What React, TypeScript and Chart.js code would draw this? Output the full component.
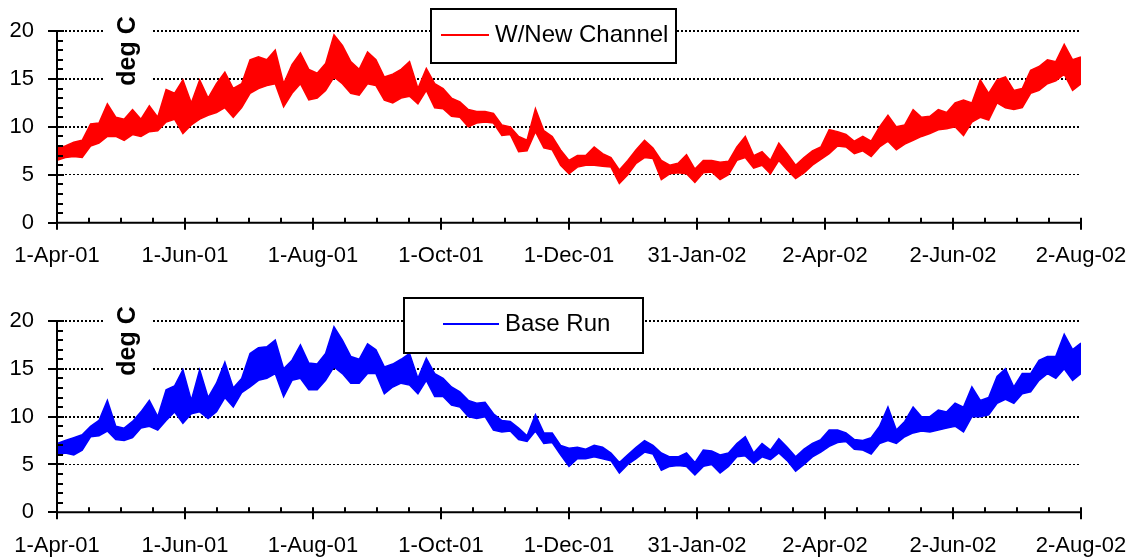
import React, { useEffect, useRef } from "react";
import { Chart, registerables } from "chart.js";
Chart.register(...registerables);

// Days since 1-Apr-01 for the labelled ticks
const xTickDays = [0, 61, 122, 183, 244, 305, 366, 427, 488];
const xTickLabels = ["1-Apr-01", "1-Jun-01", "1-Aug-01", "1-Oct-01", "1-Dec-01", "31-Jan-02", "2-Apr-02", "2-Jun-02", "2-Aug-02"];
const yTickValues = [0, 5, 10, 15, 20];
const sampleStepDays = 4; // band readings every 4 days (day 0 .. 488)

const newChannelHigh = [
  7.8, 8.0, 8.4, 8.6, 10.3, 10.4, 12.4, 11.0, 10.8, 11.8,
  10.8, 12.2, 11.0, 13.9, 13.5, 14.9, 12.5, 14.9, 13.0, 14.5,
  15.7, 14.0, 14.5, 17.0, 17.3, 17.0, 18.0, 14.5, 16.5, 17.7,
  16.0, 15.6, 16.6, 19.6, 18.5, 16.8, 16.0, 17.8, 17.0, 15.2,
  15.5, 16.0, 16.8, 14.0, 16.1, 14.5, 14.0, 13.0, 12.6, 11.8,
  11.6, 11.6, 11.4, 10.2, 10.0, 9.0, 8.6, 11.9, 9.6, 9.0,
  7.6, 6.5, 7.0, 7.0, 7.9, 7.2, 6.8, 5.5, 6.5, 7.6,
  8.6, 7.8, 6.5, 6.0, 6.2, 7.1, 5.6, 6.5, 6.5, 6.3,
  6.4, 7.9, 9.0, 7.0, 7.4, 6.5, 8.3, 7.2, 6.0, 6.8,
  7.5, 7.9, 9.7, 9.5, 9.2, 8.5, 9.0, 8.5, 10.0, 11.2,
  10.0, 10.2, 11.8, 11.0, 11.1, 11.8, 11.5, 12.5, 12.8, 12.5,
  14.9, 13.5, 14.9, 15.2, 13.8, 14.0, 15.9, 16.3, 17.0, 16.8,
  18.6, 17.0, 17.3,
];
const newChannelLow = [
  6.5, 6.8, 6.9, 6.8, 8.0, 8.3, 9.0, 9.0, 8.6, 9.2,
  9.0, 9.5, 9.6, 10.5, 10.8, 9.3, 10.2, 10.8, 11.2, 11.5,
  12.0, 11.0, 12.0, 13.5, 14.0, 14.3, 14.5, 12.1, 13.5, 14.5,
  12.8, 13.0, 13.8, 15.2, 14.5, 13.5, 13.3, 14.5, 14.3, 12.8,
  12.5, 13.0, 13.2, 12.4, 13.8, 12.0, 11.9, 11.1, 11.0, 10.0,
  10.4, 10.5, 10.4, 9.1, 9.2, 7.4, 7.5, 9.5, 7.8, 7.6,
  6.0, 5.1, 5.8, 6.0, 6.0, 5.9, 5.8, 4.1, 5.0, 6.2,
  6.8, 6.7, 4.5, 5.1, 5.2, 5.1, 4.2, 5.2, 5.3, 4.5,
  5.0, 6.5, 6.8, 5.7, 6.0, 5.1, 6.5, 5.5, 4.6, 5.2,
  6.0, 6.6, 7.2, 8.0, 7.9, 7.2, 7.5, 6.9, 7.9, 8.5,
  7.6, 8.2, 8.6, 9.0, 9.3, 9.7, 9.8, 10.0, 9.1, 10.5,
  11.0, 10.7, 12.5, 12.0, 11.8, 12.0, 13.5, 13.8, 14.5, 14.8,
  15.5, 13.8, 14.5,
];
const baseRunHigh = [
  7.2, 7.5, 7.8, 8.1, 9.0, 9.6, 11.7, 9.0, 8.8, 9.5,
  10.5, 11.7, 10.0, 12.8, 13.2, 14.9, 11.7, 14.9, 12.0, 13.5,
  15.7, 13.0, 14.0, 16.6, 17.2, 17.3, 18.0, 15.0, 15.9, 17.5,
  15.6, 15.5, 16.6, 19.4, 18.0, 16.3, 16.0, 17.6, 17.0, 15.2,
  15.5, 16.0, 16.6, 14.0, 16.1, 14.5, 14.0, 13.1, 12.6, 11.7,
  11.4, 11.5, 10.3, 9.6, 9.5, 8.8, 8.0, 10.2, 8.3, 8.3,
  7.0, 6.7, 6.8, 6.6, 7.0, 6.8, 6.2, 5.2, 6.0, 6.8,
  7.5, 7.0, 6.2, 5.8, 5.8, 6.2, 5.2, 6.5, 6.4, 6.0,
  6.2, 7.2, 7.9, 6.2, 7.2, 6.5, 7.7, 6.8, 5.8, 6.6,
  7.2, 7.6, 8.6, 8.6, 8.3, 7.6, 7.5, 7.8, 9.0, 11.0,
  8.6, 9.5, 11.0, 10.0, 10.0, 10.7, 10.5, 11.4, 11.0, 13.1,
  11.7, 12.0, 14.2, 15.0, 13.1, 14.5, 14.5, 15.9, 16.3, 16.3,
  18.6, 17.0, 17.7,
];
const baseRunLow = [
  6.0, 6.2, 6.0, 6.5, 7.9, 8.0, 8.5, 7.6, 7.5, 7.8,
  8.8, 9.0, 8.6, 9.6, 10.5, 9.3, 10.3, 10.5, 9.8, 10.5,
  12.0, 11.0, 12.5, 13.1, 13.8, 14.0, 14.5, 12.1, 13.8, 14.0,
  12.8, 12.8, 13.8, 15.2, 14.5, 13.5, 13.5, 14.5, 14.5, 12.4,
  13.1, 13.5, 13.3, 12.4, 13.8, 12.1, 12.1, 11.2, 11.0, 10.0,
  9.8, 10.0, 8.6, 8.4, 8.5, 7.6, 7.4, 8.5, 7.2, 7.3,
  6.0, 4.8, 5.6, 5.6, 5.8, 5.6, 5.4, 4.1, 5.0, 5.6,
  6.3, 6.1, 4.4, 4.8, 4.9, 4.8, 3.9, 4.8, 5.0, 4.1,
  4.8, 5.8, 5.9, 5.1, 5.8, 5.5, 6.2, 5.4, 4.3, 5.0,
  5.8, 6.3, 6.9, 7.3, 7.4, 6.6, 6.5, 6.1, 7.2, 7.5,
  7.2, 7.9, 8.3, 8.5, 8.4, 8.6, 8.8, 9.0, 8.4, 10.0,
  10.0, 10.2, 11.4, 11.8, 11.4, 12.4, 12.6, 13.8, 14.5, 14.0,
  15.0, 13.8, 14.5,
];

const FONT = '"Liberation Sans", Arial, sans-serif';
const X_MAX = 488;

function toPoints(vals: number[]) {
  return vals.map((v, i) => ({ x: Math.min(i * sampleStepDays, X_MAX), y: v }));
}

type PanelProps = {
  top: number;
  label: string;
  color: string;
  hi: number[];
  lo: number[];
  padTop: number;
  xAxisHeight: number;
  legendBox: [number, number, number, number];
  legendLine: [number, number, number];
  legendText: [number, number];
};

function Panel(p: PanelProps) {
  const ref = useRef<HTMLCanvasElement | null>(null);
  useEffect(() => {
    const canvas = ref.current!;
    const decor = {
      id: "decor",
      beforeDatasetsDraw(chart: any) {
        const ctx = chart.ctx;
        const ys = chart.scales.y;
        const left = chart.chartArea.left;
        const cy = ys.getPixelForValue(20) + 20;
        ctx.save();
        ctx.fillStyle = "#fff";
        ctx.fillRect(left + 48, cy - 42, 47, 84);
        ctx.translate(left + 71, cy);
        ctx.rotate(-Math.PI / 2);
        ctx.fillStyle = "#000";
        ctx.font = "bold 25px " + FONT;
        ctx.textAlign = "center";
        ctx.textBaseline = "middle";
        ctx.fillText("deg C", 0, 0);
        ctx.restore();
      },
      afterDatasetsDraw(chart: any) {
        const ctx = chart.ctx;
        const xs = chart.scales.x;
        const ys = chart.scales.y;
        const y0 = ys.getPixelForValue(0);
        const y20 = ys.getPixelForValue(20);
        const left = xs.getPixelForValue(0);
        const right = xs.getPixelForValue(X_MAX);
        ctx.save();
        ctx.strokeStyle = "#000";
        ctx.lineWidth = 2;
        ctx.beginPath();
        ctx.moveTo(left, y20);
        ctx.lineTo(left, y0);
        ctx.moveTo(left - 1, y0);
        ctx.lineTo(right + 1, y0);
        for (let v = 0; v <= 20; v++) {
          const py = Math.round(ys.getPixelForValue(v));
          if (v % 5 === 0) {
            ctx.moveTo(left - 9, py);
            ctx.lineTo(v === 0 ? left : left + 7, py);
          } else {
            ctx.moveTo(left, py);
            ctx.lineTo(left + 6, py);
          }
        }
        for (let k = 0; k <= 32; k++) {
          const px = Math.round(xs.getPixelForValue((k * 61) / 4));
          ctx.moveTo(px, y0 - 5);
          ctx.lineTo(px, k % 4 === 0 ? y0 + 7 : y0);
        }
        ctx.stroke();

        const [bx, by, bw, bh] = p.legendBox;
        ctx.fillStyle = "#fff";
        ctx.fillRect(bx, by, bw, bh);
        ctx.strokeStyle = "#000";
        ctx.lineWidth = 2;
        ctx.strokeRect(bx, by, bw, bh);
        const [lx1, lx2, ly] = p.legendLine;
        ctx.strokeStyle = p.color;
        ctx.lineWidth = 2;
        ctx.beginPath();
        ctx.moveTo(lx1, ly);
        ctx.lineTo(lx2, ly);
        ctx.stroke();
        ctx.fillStyle = "#000";
        ctx.font = "24px " + FONT;
        ctx.textAlign = "left";
        ctx.textBaseline = "middle";
        ctx.fillText(p.label, p.legendText[0], p.legendText[1]);
        ctx.restore();
      },
    };

    const chart = new Chart(canvas, {
      type: "line",
      data: {
        datasets: [
          {
            label: p.label,
            data: toPoints(p.hi),
            borderColor: p.color,
            backgroundColor: p.color,
            borderWidth: 1.5,
            pointRadius: 0,
            tension: 0,
            fill: "+1",
          },
          {
            label: p.label + " (low)",
            data: toPoints(p.lo),
            borderColor: p.color,
            backgroundColor: p.color,
            borderWidth: 1.5,
            pointRadius: 0,
            tension: 0,
            fill: false,
          },
        ],
      },
      options: {
        responsive: false,
        devicePixelRatio: 1,
        animation: false,
        layout: { padding: { top: p.padTop, left: 0, right: 1135 - 1081, bottom: 0 } },
        plugins: { legend: { display: false }, tooltip: { enabled: false }, filler: { propagate: false } },
        scales: {
          x: {
            type: "linear",
            min: 0,
            max: X_MAX,
            afterBuildTicks: (s: any) => {
              s.ticks = xTickDays.map((v) => ({ value: v }));
            },
            afterFit: (s: any) => {
              s.height = p.xAxisHeight;
              s.paddingLeft = 0;
              s.paddingRight = 0;
            },
            grid: { display: false, drawTicks: false },
            border: { display: false },
            ticks: {
              autoSkip: false,
              maxRotation: 0,
              padding: 20,
              color: "#000",
              font: { family: FONT, size: 22 },
              callback: (v: any) => {
                const i = xTickDays.indexOf(Number(v));
                return i >= 0 ? xTickLabels[i] : "";
              },
            },
          },
          y: {
            min: 0,
            max: 20,
            afterBuildTicks: (s: any) => {
              s.ticks = yTickValues.map((v) => ({ value: v }));
            },
            afterFit: (s: any) => {
              s.width = 57;
              s.paddingTop = 0;
              s.paddingBottom = 0;
            },
            border: { display: false, dash: [2, 2] },
            grid: {
              drawTicks: false,
              color: (c: any) => (c.tick && c.tick.value === 0 ? "rgba(0,0,0,0)" : "#000"),
              lineWidth: (c: any) => (c.tick && c.tick.value === 5 ? 1 : 2),
            },
            ticks: {
              padding: 23,
              color: "#000",
              font: { family: FONT, size: 22 },
            },
          },
        },
      },
      plugins: [decor],
    } as any);
    return () => chart.destroy();
  }, []);
  return (
    <canvas
      ref={ref}
      width={1135}
      height={280}
      style={{ position: "absolute", left: 0, top: p.top, width: 1135, height: 280 }}
    />
  );
}

export default function App() {
  return (
    <div style={{ position: "absolute", left: 0, top: 0, width: 1135, height: 560, background: "#fff" }}>
      <Panel
        top={0}
        label="W/New Channel"
        color="#ff0000"
        hi={newChannelHigh}
        lo={newChannelLow}
        padTop={31}
        xAxisHeight={57.3}
        legendBox={[431, 9, 245, 54]}
        legendLine={[441, 489, 35]}
        legendText={[495, 35]}
      />
      <Panel
        top={280}
        label="Base Run"
        color="#0000ff"
        hi={baseRunHigh}
        lo={baseRunLow}
        padTop={41}
        xAxisHeight={47.7}
        legendBox={[404, 18, 239, 55]}
        legendLine={[443, 499, 44]}
        legendText={[505, 44]}
      />
    </div>
  );
}
